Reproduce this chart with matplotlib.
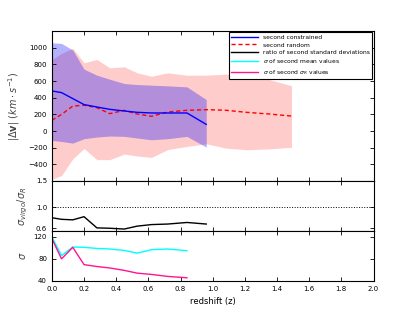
import matplotlib
matplotlib.use('Agg')
import matplotlib.pyplot as plt

# redshift bins
z_con = [0, 0.06, 0.13, 0.2, 0.28, 0.36, 0.45, 0.53, 0.62, 0.72, 0.84, 0.96]
z_rand = z_con + [1.08, 1.21, 1.35, 1.49]
z_sig = z_con[:11]

# top panel: |dv| constrained / random with spread
con_mean = [482, 462, 390, 318, 289, 261, 241, 225, 217, 217, 217, 80]
con_hi = [1061, 1053, 973, 744, 671, 623, 571, 559, 551, 543, 531, 378]
con_lo = [-113, -125, -145, -92, -72, -60, -64, -84, -105, -92, -64, -193]

rand_mean = [129, 200, 300, 310, 281, 209, 249, 205, 177, 229, 249, 257, 250, 225, 205, 180]
rand_hi = [860, 933, 993, 820, 860, 760, 772, 700, 659, 700, 671, 672, 684, 680, 620, 545]
rand_lo = [-580, -535, -334, -210, -344, -344, -277, -300, -317, -223, -185, -153, -205, -225, -215, -195]

# middle panel: ratio of std devs
ratio = [0.80, 0.77, 0.76, 0.82, 0.607, 0.60, 0.585, 0.64, 0.67, 0.68, 0.71, 0.68]

# bottom panel: sigma values
sig_mean = [120, 86, 101.5, 101, 99, 98, 95.4, 90.4, 96.7, 98, 94.8]
sig_sig = [117, 80, 101, 69.5, 66, 63.4, 59, 54, 51.6, 48, 45.5]

plt.rcParams['xtick.direction'] = 'in'
plt.rcParams['ytick.direction'] = 'in'
plt.rcParams['xtick.top'] = True
plt.rcParams['ytick.right'] = True
plt.rcParams['xtick.major.size'] = 3
plt.rcParams['ytick.major.size'] = 3
plt.rcParams['axes.linewidth'] = 0.8

fig, (ax1, ax2, ax3) = plt.subplots(3, 1, sharex=True, figsize=(4.15, 3.12), dpi=100,
                                    gridspec_kw={'height_ratios': [3, 1, 1], 'hspace': 0})

ax1.fill_between(z_rand, rand_lo, rand_hi, color='red', alpha=0.2, linewidth=0)
ax1.fill_between(z_con, con_lo, con_hi, color='blue', alpha=0.3, linewidth=0)
l_rand, = ax1.plot(z_rand, rand_mean, '--', color='red', lw=1.0, dashes=(3, 2), label='second random')
l_con, = ax1.plot(z_con, con_mean, '-', color='blue', lw=1.0, label='second constrained')
ax1.set_ylim(-600, 1200)
ax1.set_yticks(range(-400, 1001, 200))
ax1.set_ylabel(r'$|\Delta \mathbf{v}|\ (km\cdot s^{-1})$', fontsize=7, color='#444444')

l_ratio, = ax2.plot(z_con, ratio, color='black', lw=1.0, label='ratio of second standard deviations')
ax2.axhline(1.0, color='black', ls=':', lw=0.7)
ax2.set_ylim(0.55, 1.5)
ax2.set_yticks([0.6, 1.0, 1.5])
ax2.set_ylabel(r'$\sigma_{virgo}/\sigma_R$', fontsize=7, color='#444444')

l_sm, = ax3.plot(z_sig, sig_mean, color='cyan', lw=1.0, label=r'$\sigma$ of second mean values')
l_ss, = ax3.plot(z_sig, sig_sig, color='deeppink', lw=1.0, label=r'$\sigma$ of second $\sigma_R$ values')
ax3.set_ylim(40, 131)
ax3.set_yticks([40, 80, 120])
ax3.set_ylabel(r'$\sigma$', fontsize=7, color='#444444')
ax3.set_xlim(0, 2.0)
ax3.set_xticks([i * 0.2 for i in range(11)])
ax3.set_xlabel('redshift (z)', fontsize=6)

for ax in (ax1, ax2, ax3):
    ax.tick_params(labelsize=5, width=0.6)

leg = ax1.legend(handles=[l_con, l_rand, l_ratio, l_sm, l_ss], loc='upper right', fontsize=4.3,
                 fancybox=False, edgecolor='black', borderaxespad=0.2, handlelength=4.5,
                 labelspacing=0.4, framealpha=1)
leg.get_frame().set_linewidth(0.8)

fig.subplots_adjust(left=0.125, right=0.9, bottom=0.1, top=0.9)
fig.savefig('out.png', dpi=100)
